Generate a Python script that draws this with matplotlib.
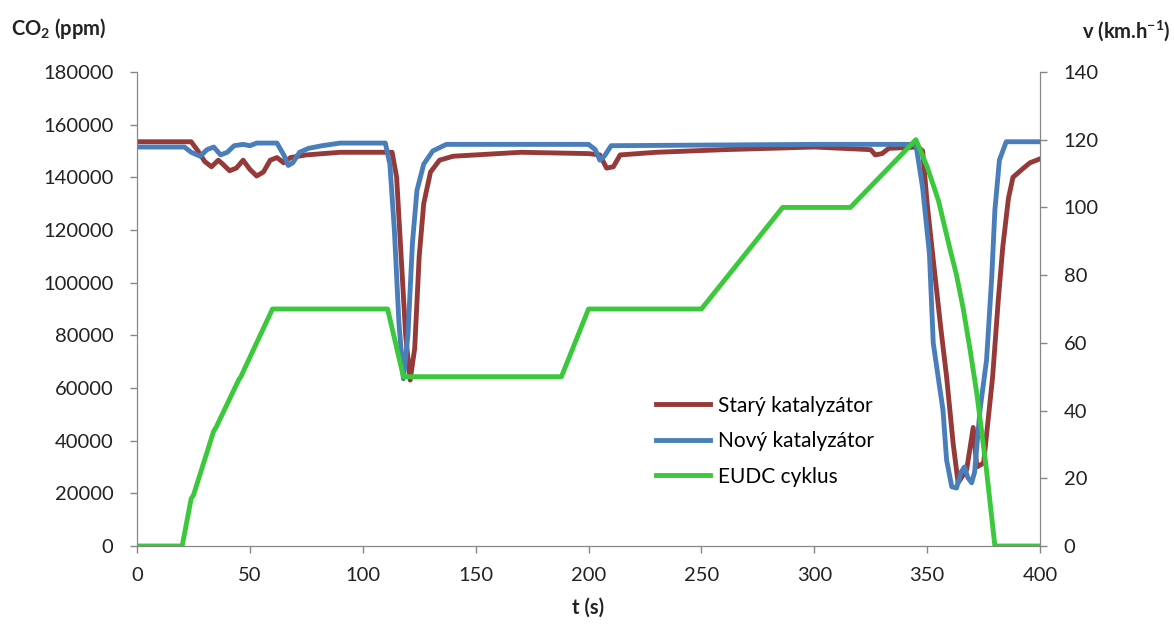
import matplotlib
matplotlib.use("Agg")
import matplotlib.pyplot as plt

plt.rcParams['font.family'] = ['Lato', 'DejaVu Sans']
plt.rcParams['mathtext.fontset'] = 'custom'
plt.rcParams['mathtext.rm'] = 'Lato'
plt.rcParams['mathtext.bf'] = 'Lato:bold'

# Starý katalyzátor (CO2, ppm)
t_old = [0, 24, 27, 30, 33, 36, 38, 41, 44, 47, 50, 53, 56, 59, 62, 65, 68, 75, 90, 113,
         115, 117, 119, 121, 123, 125, 127, 130, 134, 140, 170, 200, 205, 208, 211, 214,
         230, 260, 300, 325, 327, 330, 333, 346, 348, 350, 352.7, 356, 358.6, 361.5,
         363.7, 367.5, 370.4, 372, 375, 379, 381.5, 383.5, 386, 388, 392, 395.5, 400]
co2_old = [153500, 153500, 150000, 146000, 144000, 146500, 145000, 142500, 143500, 146500,
           143000, 140500, 142000, 146500, 147500, 145500, 147500, 148500, 149500, 149500,
           140000, 110000, 80000, 63000, 75000, 110000, 130000, 142000, 146500, 148000,
           149500, 149000, 148500, 143500, 144000, 148500, 149500, 150500, 151500, 150500,
           148500, 149000, 151000, 151500, 150000, 130000, 108600, 83000, 64300, 39000,
           24000, 29000, 45000, 30000, 31500, 64300, 93400, 113600, 132000, 140000, 143000,
           145500, 147000]

# Nový katalyzátor (CO2, ppm)
t_new = [0, 21, 24, 28, 31, 34, 37, 40, 43, 47, 50, 53, 62, 65, 67, 69, 72, 76, 82, 90,
         110, 112, 114, 116, 118, 120, 122, 124, 127, 131, 137, 200, 203, 205, 207, 210,
         300, 345, 348, 351, 352.7, 357, 358.6, 360.9, 363, 365, 366.5, 368, 369.7, 371,
         373.4, 376.3, 378.6, 380, 382, 385, 400]
co2_new = [151500, 151500, 149500, 148000, 150500, 151500, 148500, 149500, 152000, 152500,
           152000, 153000, 153000, 148500, 144500, 145500, 149500, 151000, 152000, 153000,
           153000, 145000, 120000, 85000, 63500, 80000, 115000, 135000, 145000, 150000,
           152500, 152500, 150500, 146500, 148000, 152000, 152500, 152500, 136000, 111000,
           77000, 51600, 32700, 22500, 22000, 28000, 30000, 26000, 24000, 28000, 51600,
           70600, 102000, 127600, 146500, 153500, 153500]

# EUDC cyklus (v, km/h)
t_eudc = [0, 20, 24, 25, 34, 35, 45, 46, 60, 111, 118, 188, 200, 250, 286, 316, 345,
          350, 355, 360, 363, 366, 369, 372, 376, 380, 400]
v_eudc = [0, 0, 14, 15, 34, 35, 49, 50, 70, 70, 50, 50, 70, 70, 100, 100, 120,
          112, 102, 88, 80, 70, 58, 45, 24, 0, 0]

x_ticks = [0, 50, 100, 150, 200, 250, 300, 350, 400]
y_ticks = [0, 20000, 40000, 60000, 80000, 100000, 120000, 140000, 160000, 180000]
v_ticks = [0, 20, 40, 60, 80, 100, 120, 140]

c_old = '#953a38'
c_new = '#4a7ebb'
c_eudc = '#3cc83c'
gray = '#868686'

fig = plt.figure(figsize=(11.74, 6.28), dpi=100)
ax = fig.add_axes([0.1167, 0.1306, 0.7692, 0.7548])
ax2 = ax.twinx()

l1, = ax.plot(t_old, co2_old, color=c_old, lw=3.5, label='Starý katalyzátor', zorder=3)
l2, = ax.plot(t_new, co2_new, color=c_new, lw=3.5, label='Nový katalyzátor', zorder=4)
l3, = ax2.plot(t_eudc, v_eudc, color=c_eudc, lw=3.5, label='EUDC cyklus')

ax.set_xlim(0, 400)
ax.set_ylim(0, 180000)
ax2.set_ylim(0, 140)
ax.set_xticks(x_ticks)
ax.set_yticks(y_ticks)
ax2.set_yticks(v_ticks)

for a in (ax, ax2):
    for s in a.spines.values():
        s.set_color(gray)
    a.spines['top'].set_visible(False)
    a.tick_params(colors=gray, labelcolor='#222222', labelsize=14.5, length=5, width=1)
ax.tick_params(axis='y', pad=12)
ax2.tick_params(axis='y', pad=12)
ax.tick_params(axis='x', pad=10)

fig.text(0.009, 0.955, r'CO$_{\mathbf{2}}$ (ppm)', fontsize=14.5, fontweight='bold',
         color='#222222', ha='left', va='center')
fig.text(0.997, 0.952, r'v (km.h$^{\mathbf{-1}}$)', fontsize=14.5, fontweight='bold',
         color='#222222', ha='right', va='center')
fig.text(0.501, 0.032, 't (s)', fontsize=14.5, fontweight='bold',
         color='#222222', ha='center', va='center')

ax2.legend(handles=[l1, l2, l3], loc='upper left', bbox_to_anchor=(0.565, 0.335),
           frameon=False, fontsize=15, handlelength=2.6, handletextpad=0.4,
           labelspacing=0.75, borderaxespad=0)

fig.savefig('out.png', dpi=100)
